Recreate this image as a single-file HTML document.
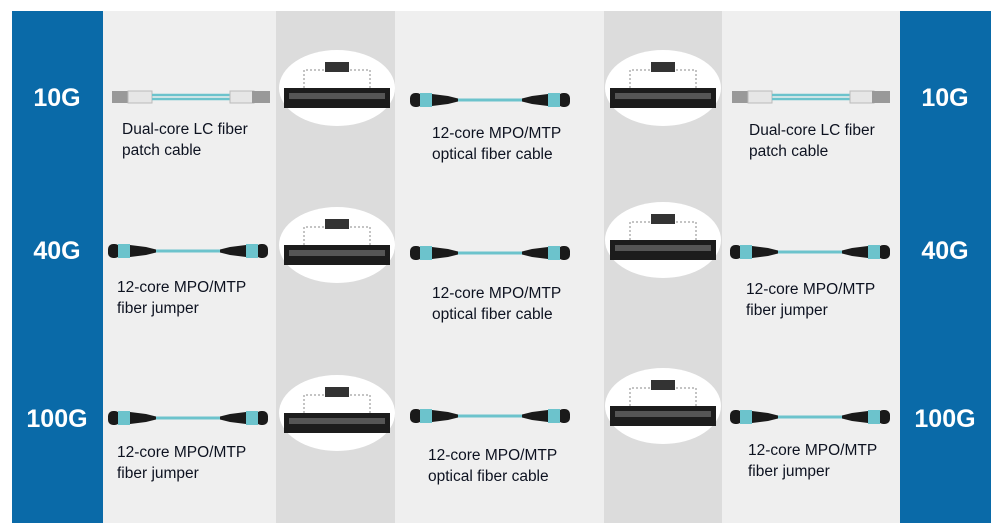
<!DOCTYPE html>
<html><head><style>
body{margin:0;background:#fff;}
svg{display:block;font-family:"Liberation Sans",sans-serif;}
.l{font-size:15.5px;fill:#0d1220;}
.s{font-size:25px;font-weight:bold;fill:#fff;text-anchor:middle;}
</style></head><body>
<svg width="998" height="528" viewBox="0 0 998 528">
<defs>
<g id="mpo">
 <line x1="40" y1="0" x2="120" y2="0" stroke="#6cc3cc" stroke-width="3"/>
 <rect x="0" y="-7" width="12" height="14" rx="5" fill="#1a1a1a"/>
 <rect x="10" y="-7" width="12" height="14" fill="#6cc3cc"/>
 <path d="M22 -6 L38 -4 L48 -1.5 L48 1.5 L38 4 L22 6Z" fill="#1a1a1a"/>
 <rect x="148" y="-7" width="12" height="14" rx="5" fill="#1a1a1a"/>
 <rect x="138" y="-7" width="12" height="14" fill="#6cc3cc"/>
 <path d="M138 -6 L122 -4 L112 -1.5 L112 1.5 L122 4 L138 6Z" fill="#1a1a1a"/>
</g>
<g id="lc">
 <rect x="0" y="-6" width="18" height="12" fill="#999"/>
 <rect x="16" y="-6" width="24" height="12" fill="#e6e6e6" stroke="#bbb"/>
 <line x1="40" y1="-2" x2="118" y2="-2" stroke="#6cc3cc" stroke-width="2.5"/>
 <line x1="40" y1="2" x2="118" y2="2" stroke="#6cc3cc" stroke-width="2.5"/>
 <rect x="118" y="-6" width="24" height="12" fill="#e6e6e6" stroke="#bbb"/>
 <rect x="140" y="-6" width="18" height="12" fill="#999"/>
</g>
<g id="panel">
 <ellipse cx="0" cy="0" rx="58" ry="38" fill="#fff"/>
 <rect x="-53" y="0" width="106" height="20" fill="#1c1c1c"/>
 <rect x="-48" y="5" width="96" height="6" fill="#555"/>
 <path d="M-33 0 V-18 H33 V0" fill="none" stroke="#888" stroke-dasharray="2 2"/>
 <rect x="-12" y="-26" width="24" height="10" fill="#333"/>
</g>
</defs>
<rect x="103" y="11" width="797" height="512" fill="#efefef"/>
<rect x="276" y="11" width="119" height="512" fill="#dcdcdc"/>
<rect x="604" y="11" width="118" height="512" fill="#dcdcdc"/>
<rect x="12" y="11" width="91" height="512" fill="#0a6aa8"/>
<rect x="900" y="11" width="91" height="512" fill="#0a6aa8"/>
<text class="s" x="57" y="106">10G</text>
<text class="s" x="57" y="259">40G</text>
<text class="s" x="57" y="427">100G</text>
<text class="s" x="945" y="106">10G</text>
<text class="s" x="945" y="259">40G</text>
<text class="s" x="945" y="427">100G</text>
<use href="#panel" x="337" y="88"/><use href="#panel" x="663" y="88"/>
<use href="#panel" x="337" y="245"/><use href="#panel" x="663" y="240"/>
<use href="#panel" x="337" y="413"/><use href="#panel" x="663" y="406"/>
<use href="#lc" x="112" y="97"/><use href="#mpo" x="410" y="100"/><use href="#lc" x="732" y="97"/>
<use href="#mpo" x="108" y="251"/><use href="#mpo" x="410" y="253"/><use href="#mpo" x="730" y="252"/>
<use href="#mpo" x="108" y="418"/><use href="#mpo" x="410" y="416"/><use href="#mpo" x="730" y="417"/>
<text class="l" x="122" y="134">Dual-core LC fiber</text><text class="l" x="122" y="155">patch cable</text>
<text class="l" x="432" y="138">12-core MPO/MTP</text><text class="l" x="432" y="159">optical fiber cable</text>
<text class="l" x="749" y="135">Dual-core LC fiber</text><text class="l" x="749" y="156">patch cable</text>
<text class="l" x="117" y="292">12-core MPO/MTP</text><text class="l" x="117" y="313">fiber jumper</text>
<text class="l" x="432" y="298">12-core MPO/MTP</text><text class="l" x="432" y="319">optical fiber cable</text>
<text class="l" x="746" y="294">12-core MPO/MTP</text><text class="l" x="746" y="315">fiber jumper</text>
<text class="l" x="117" y="457">12-core MPO/MTP</text><text class="l" x="117" y="478">fiber jumper</text>
<text class="l" x="428" y="460">12-core MPO/MTP</text><text class="l" x="428" y="481">optical fiber cable</text>
<text class="l" x="748" y="455">12-core MPO/MTP</text><text class="l" x="748" y="476">fiber jumper</text>
</svg>
</body></html>
